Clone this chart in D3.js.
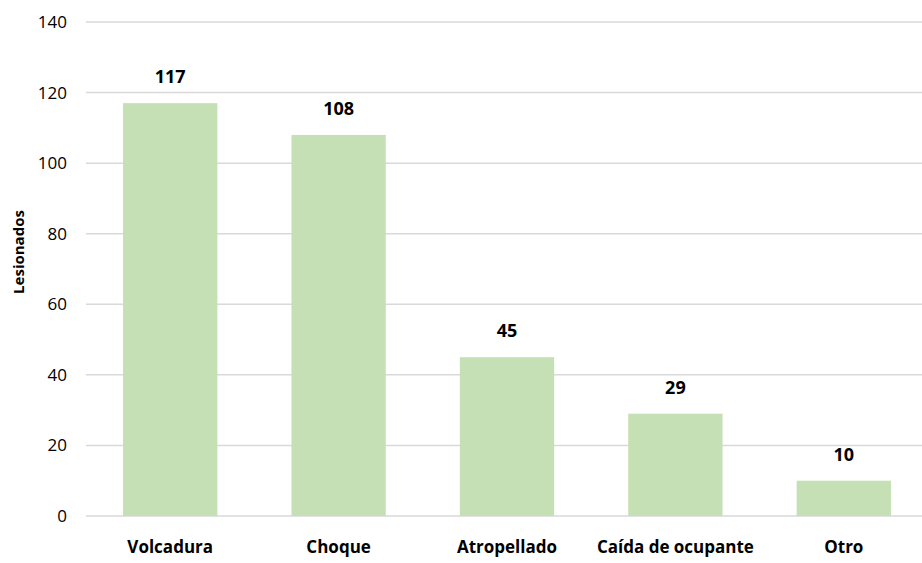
<!DOCTYPE html>
<html>
<head>
<meta charset="utf-8">
<script src="https://cdn.jsdelivr.net/npm/d3@7"></script>
<style>
  body { margin: 0; background: #fff; }
  svg { display: block; }
</style>
</head>
<body>
<svg id="chart" width="922" height="563"></svg>
<script>
// Lesionados por tipo de accidente
const categories = ["Volcadura", "Choque", "Atropellado", "Caída de ocupante", "Otro"];
const values = [117, 108, 45, 29, 10];
const yTicks = [0, 20, 40, 60, 80, 100, 120, 140];
const yTitle = "Lesionados";

const svg = d3.select("#chart");
const W = 922, H = 563;
const m = { left: 86, right: -6, top: 22, bottom: 47 };

const x = d3.scaleBand()
  .domain(categories)
  .range([m.left, W - m.right])
  .paddingInner(0.44)
  .paddingOuter(0.22);

const y = d3.scaleLinear()
  .domain([0, 140])
  .range([H - m.bottom, m.top]);

// horizontal gridlines
svg.append("g")
  .selectAll("line")
  .data(yTicks)
  .join("line")
  .attr("x1", m.left)
  .attr("x2", W)
  .attr("y1", d => y(d))
  .attr("y2", d => y(d))
  .attr("stroke", "#d9d9d9")
  .attr("stroke-width", 1.5);

// y axis labels
const yAxis = svg.append("g")
  .attr("transform", `translate(${m.left},0)`)
  .call(d3.axisLeft(y).tickValues(yTicks).tickSize(0).tickPadding(19));
yAxis.select(".domain").remove();
yAxis.selectAll("text")
  .attr("font-family", "'Open Sans', Calibri, sans-serif")
  .attr("font-size", 17)
  .attr("fill", "#000");

// bars
svg.append("g")
  .selectAll("rect")
  .data(values)
  .join("rect")
  .attr("x", (d, i) => x(categories[i]))
  .attr("y", d => y(d))
  .attr("width", x.bandwidth())
  .attr("height", d => y(0) - y(d))
  .attr("fill", "#c5e0b4");

// value labels
svg.append("g")
  .selectAll("text")
  .data(values)
  .join("text")
  .attr("x", (d, i) => x(categories[i]) + x.bandwidth() / 2)
  .attr("y", d => y(d) - 20)
  .attr("text-anchor", "middle")
  .attr("font-family", "'Open Sans', sans-serif")
  .attr("font-weight", "bold")
  .attr("font-size", 18)
  .attr("fill", "#000")
  .text(d => d);

// category labels
const xAxis = svg.append("g")
  .attr("transform", `translate(0,${y(0)})`)
  .call(d3.axisBottom(x).tickSize(0).tickPadding(25));
xAxis.select(".domain").remove();
xAxis.selectAll("text")
  .attr("font-family", "'Open Sans', sans-serif")
  .attr("font-weight", "bold")
  .attr("font-size", 17)
  .attr("fill", "#000");

// y axis title
svg.append("text")
  .attr("transform", `translate(24,252) rotate(-90)`)
  .attr("text-anchor", "middle")
  .attr("font-family", "'Open Sans', sans-serif")
  .attr("font-weight", "bold")
  .attr("font-size", 15)
  .attr("fill", "#000")
  .text(yTitle);
</script>
</body>
</html>
